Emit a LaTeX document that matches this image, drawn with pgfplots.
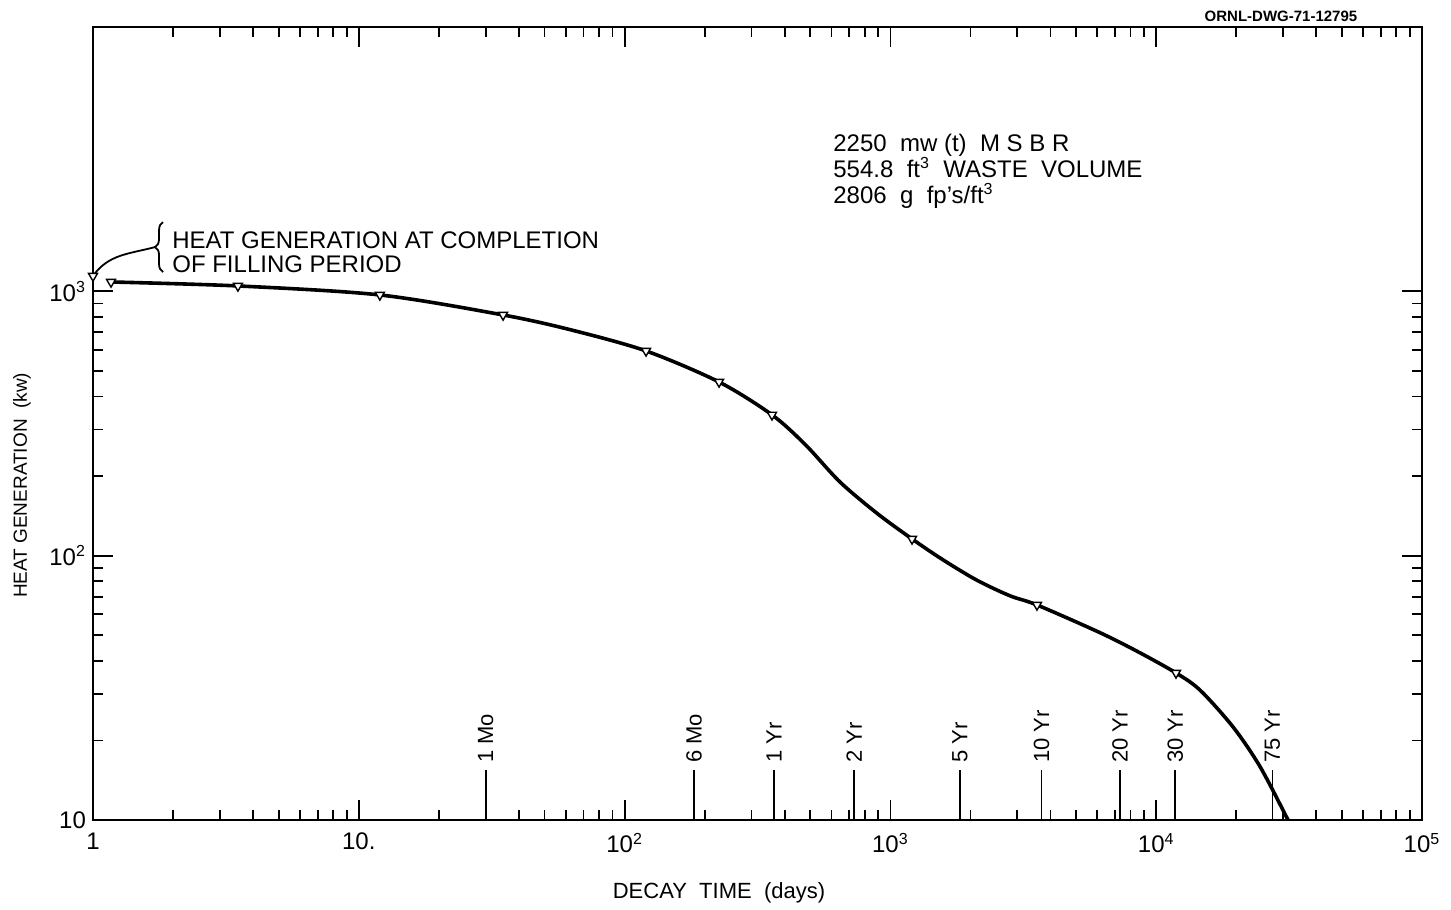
\documentclass[border=0pt]{standalone}
\usepackage{fontspec}
\setmainfont{Liberation Sans}
\usepackage{pgfplots}
\pgfplotsset{compat=1.18}
\usetikzlibrary{decorations.pathreplacing}

\pgfplotstableread{
x y
1.169 1085
3.51 1048
12.0 969
34.9 814
63.1 714
120.4 595
226.6 454
358.5 341
478.6 263
645.7 190.1
891.3 144.5
1206 115.7
1578 96.4
2118 80.7
2818 70.5
3560 65.1
6152 51.1
8690 42.9
11870 36.0
14620 31.0
19450 22.5
24600 15.9
31330 10
33000 9.0
}\curve

\pgfplotstableread{
x y
1 1143
1.169 1085
3.51 1048
12.0 969
34.9 814
120.4 595
226.6 454
358.5 341
1206 115.7
3560 65.1
11870 36.0
}\marks

\pgfplotstableread{
x y label
30 15.5 {1 Mo}
182.6 15.5 {6 Mo}
365.25 15.5 {1 Yr}
730.5 15.5 {2 Yr}
1826 15.5 {5 Yr}
3700 15.5 {10 Yr}
7305 15.5 {20 Yr}
11800 15.5 {30 Yr}
27394 15.5 {75 Yr}
}\times

\begin{document}
\begin{tikzpicture}
\begin{axis}[
  scale only axis, width=664.5pt, height=396.5pt,
  xmode=log, ymode=log,
  xmin=1, xmax=1e5, ymin=10, ymax=1e4,
  axis line style={line width=1.4pt},
  every tick/.style={black, line width=0.9pt},
  major tick length=10pt, minor tick length=5pt,
  xtick={1,10,100,1000,10000,100000},
  xticklabels={1,10.,10\textsuperscript{2},10\textsuperscript{3},10\textsuperscript{4},10\textsuperscript{5}},
  ytick={10,100,1000},
  yticklabels={10,10\textsuperscript{2},10\textsuperscript{3}},
  tick label style={font=\fontsize{12}{14}\selectfont},
  xticklabel style={yshift=-3pt},
  log origin y=infty,
]
\addplot[black, line width=1.8pt, smooth, tension=0.5] table[x=x,y=y] {\curve};
\addplot[black, only marks, mark=triangle*, mark size=2.6pt,
  mark options={fill=white, line width=0.7pt, rotate=180}] table[x=x,y=y] {\marks};
\addplot[black, line width=0.9pt, ycomb, mark=none,
  nodes near coords, point meta=explicit symbolic,
  every node near coord/.append style={rotate=90, anchor=west, font=\fontsize{11}{13}\selectfont, inner sep=3pt}]
  table[x=x,y=y,meta=label] {\times};

% annotations
\draw[line width=0.9pt, decorate, decoration={brace, amplitude=4pt}]
  (rel axis cs:0.0527,0.691) -- (rel axis cs:0.0527,0.754);
\draw[line width=0.9pt] (axis cs:1,1143) to[out=55, in=195] (rel axis cs:0.047,0.7226);
\node[anchor=west, align=left, font=\fontsize{12}{12}\selectfont, inner sep=0pt]
  at (rel axis cs:0.0594,0.7165) {HEAT GENERATION AT COMPLETION\\OF FILLING PERIOD};
\node[anchor=west, align=left, font=\fontsize{12}{13}\selectfont, inner sep=0pt]
  at (rel axis cs:0.5568,0.818) {2250\ \ mw (t)\ \ M S B R\\554.8\ \ ft\textsuperscript{3}\ \ WASTE\ \ VOLUME\\2806\ \ g\ \ fp's/ft\textsuperscript{3}};
\end{axis}
\node[font=\fontsize{11}{13}\selectfont] at (313pt,-36.5pt) {DECAY\ \ TIME\ \ (days)};
\node[font=\fontsize{9.5}{12}\selectfont, rotate=90] at (-35.5pt,167.3pt) {HEAT GENERATION\ \ (kw)};
\node[font=\bfseries\fontsize{7.5}{9}\selectfont] at (594pt,402pt) {ORNL-DWG-71-12795};
\pgfresetboundingbox
\path[use as bounding box] (-46.5pt,-45pt) rectangle (679pt,410pt);
\end{tikzpicture}
\end{document}
